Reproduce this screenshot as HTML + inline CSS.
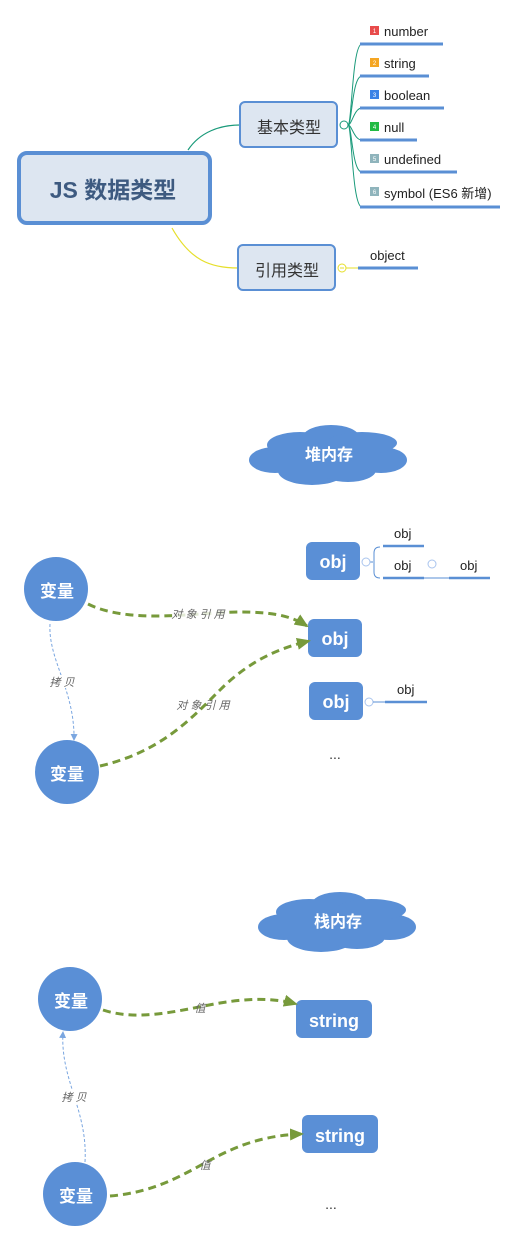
<!DOCTYPE html>
<html><head><meta charset="utf-8"><style>
html,body{margin:0;padding:0;background:#fff;}
svg{display:block;}
text{font-family:"Liberation Sans","Noto Sans CJK SC",sans-serif;}
.it{font-style:italic;fill:#666;font-size:11px;}
.w{fill:#fff;font-weight:bold;}
.lbl{fill:#222;font-size:13px;}
</style></head><body>
<svg width="518" height="1243" viewBox="0 0 518 1243" xmlns="http://www.w3.org/2000/svg">
<defs>
<g id="cloud" fill="#5a8fd6">
<ellipse cx="275" cy="460" rx="26" ry="13"/>
<ellipse cx="381" cy="460" rx="26" ry="13"/>
<ellipse cx="300" cy="445" rx="33" ry="13"/>
<ellipse cx="331" cy="437" rx="28" ry="12"/>
<ellipse cx="362" cy="443" rx="35" ry="11"/>
<ellipse cx="312" cy="471" rx="34" ry="14"/>
<ellipse cx="348" cy="470" rx="28" ry="12"/>
<rect x="275" y="440" width="105" height="30"/>
</g>
<marker id="ga" markerWidth="14" markerHeight="12" refX="12" refY="6" orient="auto" markerUnits="userSpaceOnUse" viewBox="0 0 14 12"><path d="M0,0 L14,6 L0,12z" fill="#779a3b"/></marker>
<marker id="ba" markerWidth="7" markerHeight="7" refX="6" refY="3.5" orient="auto" markerUnits="userSpaceOnUse"><path d="M0,0 L7,3.5 L0,7z" fill="#7aa6e0"/></marker>
</defs>

<!-- top mindmap -->
<path d="M188,150 C200,132 220,125 240,125" fill="none" stroke="#1a9a7a" stroke-width="1.2"/>
<path d="M172,228 C190,260 210,268 238,268" fill="none" stroke="#e6df2a" stroke-width="1.2"/>
<rect x="19" y="153" width="191" height="70" rx="8" fill="#dde6f1" stroke="#5a8fd4" stroke-width="4"/>
<text x="113" y="198" text-anchor="middle" font-size="23" font-weight="bold" fill="#3d5a80">JS 数据类型</text>
<rect x="240" y="102" width="97" height="45" rx="5" fill="#dde6f1" stroke="#5a8fd4" stroke-width="2"/>
<text x="289" y="133" text-anchor="middle" font-size="16" fill="#333">基本类型</text>
<rect x="238" y="245" width="97" height="45" rx="5" fill="#dde6f1" stroke="#5a8fd4" stroke-width="2"/>
<text x="287" y="276" text-anchor="middle" font-size="16" fill="#333">引用类型</text>
<circle cx="344" cy="125" r="4" fill="#fff" stroke="#1a9a7a"/>
<g fill="none" stroke="#1a9a7a" stroke-width="1">
<path d="M348,125 C352,125 352,44 362,44"/><path d="M348,125 C352,125 352,76 362,76"/>
<path d="M348,125 C352,125 354,108 362,108"/><path d="M348,125 C352,125 354,140 362,140"/>
<path d="M348,125 C352,125 352,172 362,172"/><path d="M348,125 C352,125 352,207 362,207"/>
</g>
<g stroke="#5a8fd4" stroke-width="3">
<line x1="360" y1="44" x2="443" y2="44"/><line x1="360" y1="76" x2="429" y2="76"/>
<line x1="360" y1="108" x2="444" y2="108"/><line x1="360" y1="140" x2="417" y2="140"/>
<line x1="360" y1="172" x2="457" y2="172"/><line x1="360" y1="207" x2="500" y2="207"/>
<line x1="358" y1="268" x2="418" y2="268"/>
</g>
<rect x="370" y="26" width="9" height="9" fill="#e84b4b"/><rect x="370" y="58" width="9" height="9" fill="#f5a623"/>
<rect x="370" y="90" width="9" height="9" fill="#3b82e6"/><rect x="370" y="122" width="9" height="9" fill="#22bb44"/>
<rect x="370" y="154" width="9" height="9" fill="#8fb4bc"/><rect x="370" y="187" width="9" height="9" fill="#8fb4bc"/>
<g font-size="6" fill="#fff" text-anchor="middle"><text x="374.5" y="33">1</text><text x="374.5" y="65">2</text><text x="374.5" y="97">3</text><text x="374.5" y="129">4</text><text x="374.5" y="161">5</text><text x="374.5" y="194">6</text></g>
<g class="lbl"><text x="384" y="36">number</text><text x="384" y="68">string</text><text x="384" y="100">boolean</text><text x="384" y="132">null</text><text x="384" y="164">undefined</text><text x="384" y="198">symbol (ES6 新增)</text><text x="370" y="260">object</text></g>
<line x1="346" y1="268" x2="358" y2="268" stroke="#e6df2a"/>
<circle cx="342" cy="268" r="4" fill="#fff" stroke="#e6df2a"/>
<line x1="340" y1="268" x2="344" y2="268" stroke="#e6df2a"/>

<!-- heap -->
<use href="#cloud"/>
<text x="329" y="460" text-anchor="middle" class="w" font-size="16">堆内存</text>
<rect x="306" y="542" width="54" height="38" rx="6" fill="#5a8fd6"/>
<text x="333" y="568" text-anchor="middle" class="w" font-size="18">obj</text>
<rect x="308" y="619" width="54" height="38" rx="6" fill="#5a8fd6"/>
<text x="335" y="645" text-anchor="middle" class="w" font-size="18">obj</text>
<rect x="309" y="682" width="54" height="38" rx="6" fill="#5a8fd6"/>
<text x="336" y="708" text-anchor="middle" class="w" font-size="18">obj</text>
<text x="335" y="759" text-anchor="middle" font-size="14" fill="#333">...</text>
<path d="M370,562 L373,562 M380,547 Q374,547 374,553 L374,572 Q374,578 380,578" fill="none" stroke="#5a8fd4"/>
<circle cx="366" cy="562" r="4" fill="#fff" stroke="#a9c4ee"/>
<circle cx="432" cy="564" r="4" fill="#fff" stroke="#a9c4ee"/>
<circle cx="369" cy="702" r="4" fill="#fff" stroke="#a9c4ee"/>
<g stroke="#5a8fd4" stroke-width="2.5"><line x1="383" y1="546" x2="424" y2="546"/><line x1="383" y1="578" x2="424" y2="578"/><line x1="449" y1="578" x2="490" y2="578"/><line x1="385" y1="702" x2="427" y2="702"/></g>
<line x1="424" y1="578" x2="449" y2="578" stroke="#5a8fd4"/>
<line x1="373" y1="702" x2="385" y2="702" stroke="#5a8fd4"/>
<g class="lbl"><text x="394" y="538">obj</text><text x="394" y="570">obj</text><text x="460" y="570">obj</text><text x="397" y="694">obj</text></g>

<path d="M88,604 C130,625 200,612 240,612 C270,612 290,615 307,626" fill="none" stroke="#779a3b" stroke-width="3" stroke-dasharray="8,5" marker-end="url(#ga)"/>
<path d="M100,766 C160,752 190,720 220,690 C250,660 280,648 309,641" fill="none" stroke="#779a3b" stroke-width="3" stroke-dasharray="8,5" marker-end="url(#ga)"/>
<rect x="172" y="607" width="52" height="13" fill="#fff" opacity="0.8"/>
<text x="198" y="618" text-anchor="middle" class="it">对 象 引 用</text>
<text x="203" y="709" text-anchor="middle" class="it">对 象 引 用</text>
<path d="M50,624 C48,660 75,690 74,740" fill="none" stroke="#7aa6e0" stroke-width="1" stroke-dasharray="3,2" marker-end="url(#ba)"/>
<rect x="48" y="675" width="28" height="13" fill="#fff"/>
<text x="62" y="686" text-anchor="middle" class="it">拷 贝</text>
<circle cx="56" cy="589" r="32" fill="#5a8fd6"/>
<text x="57" y="597" text-anchor="middle" class="w" font-size="17">变量</text>
<circle cx="67" cy="772" r="32" fill="#5a8fd6"/>
<text x="67" y="780" text-anchor="middle" class="w" font-size="17">变量</text>

<!-- stack -->
<use href="#cloud" transform="translate(9,467)"/>
<text x="338" y="927" text-anchor="middle" class="w" font-size="16">栈内存</text>
<rect x="296" y="1000" width="76" height="38" rx="6" fill="#5a8fd6"/>
<text x="334" y="1027" text-anchor="middle" class="w" font-size="18">string</text>
<rect x="302" y="1115" width="76" height="38" rx="6" fill="#5a8fd6"/>
<text x="340" y="1142" text-anchor="middle" class="w" font-size="18">string</text>
<text x="331" y="1209" text-anchor="middle" font-size="14" fill="#333">...</text>
<path d="M103,1010 C140,1022 180,1010 220,1003 C250,998 275,998 296,1004" fill="none" stroke="#779a3b" stroke-width="3" stroke-dasharray="8,5" marker-end="url(#ga)"/>
<path d="M110,1196 C160,1192 190,1170 220,1155 C250,1140 275,1135 302,1134" fill="none" stroke="#779a3b" stroke-width="3" stroke-dasharray="8,5" marker-end="url(#ga)"/>
<text x="200" y="1012" text-anchor="middle" class="it">值</text>
<text x="205" y="1169" text-anchor="middle" class="it">值</text>
<path d="M85,1162 C88,1110 60,1080 63,1032" fill="none" stroke="#7aa6e0" stroke-width="1" stroke-dasharray="3,2" marker-end="url(#ba)"/>
<rect x="60" y="1090" width="28" height="13" fill="#fff"/>
<text x="74" y="1101" text-anchor="middle" class="it">拷 贝</text>
<circle cx="70" cy="999" r="32" fill="#5a8fd6"/>
<text x="71" y="1007" text-anchor="middle" class="w" font-size="17">变量</text>
<circle cx="75" cy="1194" r="32" fill="#5a8fd6"/>
<text x="76" y="1202" text-anchor="middle" class="w" font-size="17">变量</text>
</svg>
</body></html>
